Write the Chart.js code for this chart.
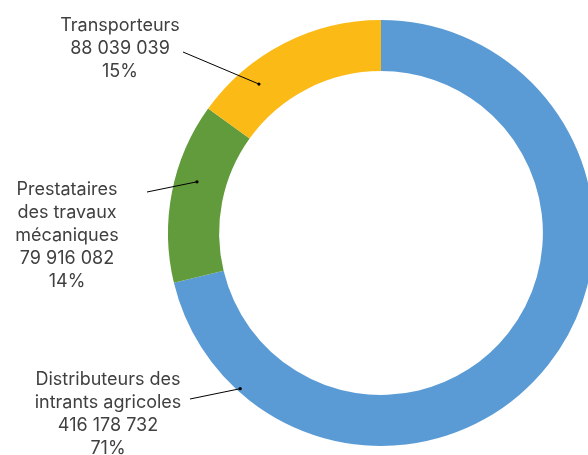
<!DOCTYPE html>
<html lang="fr">
<head>
<meta charset="utf-8">
<title>Répartition par type d'acteur</title>
<script src="https://cdn.jsdelivr.net/npm/chart.js@4/dist/chart.umd.min.js"></script>
<style>
  html, body { margin: 0; padding: 0; background: #ffffff; overflow: hidden; }
  #wrap { position: relative; width: 600px; height: 455px; }
</style>
</head>
<body>
<div id="wrap"><canvas id="chart" width="600" height="455"></canvas></div>
<script>
// Acteurs et montants
const categories = ['Distributeurs des intrants agricoles', 'Prestataires des travaux mécaniques', 'Transporteurs'];
const labelLines = [
  ['Distributeurs des', 'intrants agricoles'],
  ['Prestataires', 'des travaux', 'mécaniques'],
  ['Transporteurs']
];
const amounts = [416178732, 79916082, 88039039];
const colors = ['#5B9BD5', '#629B3B', '#FBBA15'];

// Placement des étiquettes (centre du texte, ligne de base de la 1re ligne, départ du trait)
// et point d'ancrage sur l'anneau (fraction de l'angle, fraction de l'épaisseur)
const labelLayout = [
  { x: 108, y: 384.5, lineFrom: [190, 399], along: 0.866, depth: 0.94 },
  { x: 67,  y: 194.5, lineFrom: [147, 192], along: 0.59,  depth: 0.57 },
  { x: 120, y: 30.8,  lineFrom: [183, 52],  along: 0.275, depth: 0.60 }
];
const lineHeight = 23.2;

const total = amounts.reduce((a, b) => a + b, 0);
const fmt = v => String(v).replace(/\B(?=(\d{3})+(?!\d))/g, ' ');

const calloutPlugin = {
  id: 'callouts',
  afterDatasetsDraw(chart) {
    const ctx = chart.ctx;
    const meta = chart.getDatasetMeta(0);
    ctx.save();
    meta.data.forEach((arc, i) => {
      const p = arc.getProps(['x', 'y', 'startAngle', 'endAngle', 'innerRadius', 'outerRadius'], true);
      const L = labelLayout[i];
      const ang = p.startAngle + (p.endAngle - p.startAngle) * L.along;
      const rad = p.innerRadius + (p.outerRadius - p.innerRadius) * L.depth;
      const ax = p.x + Math.cos(ang) * rad;
      const ay = p.y + Math.sin(ang) * rad;

      // trait de rappel
      ctx.strokeStyle = '#000000';
      ctx.lineWidth = 1;
      ctx.beginPath();
      ctx.moveTo(L.lineFrom[0], L.lineFrom[1]);
      ctx.lineTo(ax, ay);
      ctx.stroke();
      ctx.fillStyle = '#000000';
      ctx.beginPath();
      ctx.arc(ax, ay, 1.6, 0, Math.PI * 2);
      ctx.fill();

      // texte : nom, montant, pourcentage
      const lines = labelLines[i].concat([fmt(amounts[i]), Math.round(amounts[i] / total * 100) + '%']);
      ctx.fillStyle = '#404040';
      ctx.font = '18px Inter, "Open Sans", sans-serif';
      ctx.textAlign = 'center';
      ctx.textBaseline = 'alphabetic';
      lines.forEach((t, k) => ctx.fillText(t, L.x, L.y + k * lineHeight));
    });
    ctx.restore();
  }
};

new Chart(document.getElementById('chart'), {
  type: 'doughnut',
  data: {
    labels: categories,
    datasets: [{
      data: amounts,
      backgroundColor: colors,
      borderWidth: 0
    }]
  },
  options: {
    responsive: false,
    animation: false,
    cutout: '76%',
    layout: { padding: { left: 168, right: 6, top: 20, bottom: 9 } },
    plugins: {
      legend: { display: false },
      tooltip: { enabled: false }
    }
  },
  plugins: [calloutPlugin]
});
</script>
</body>
</html>
